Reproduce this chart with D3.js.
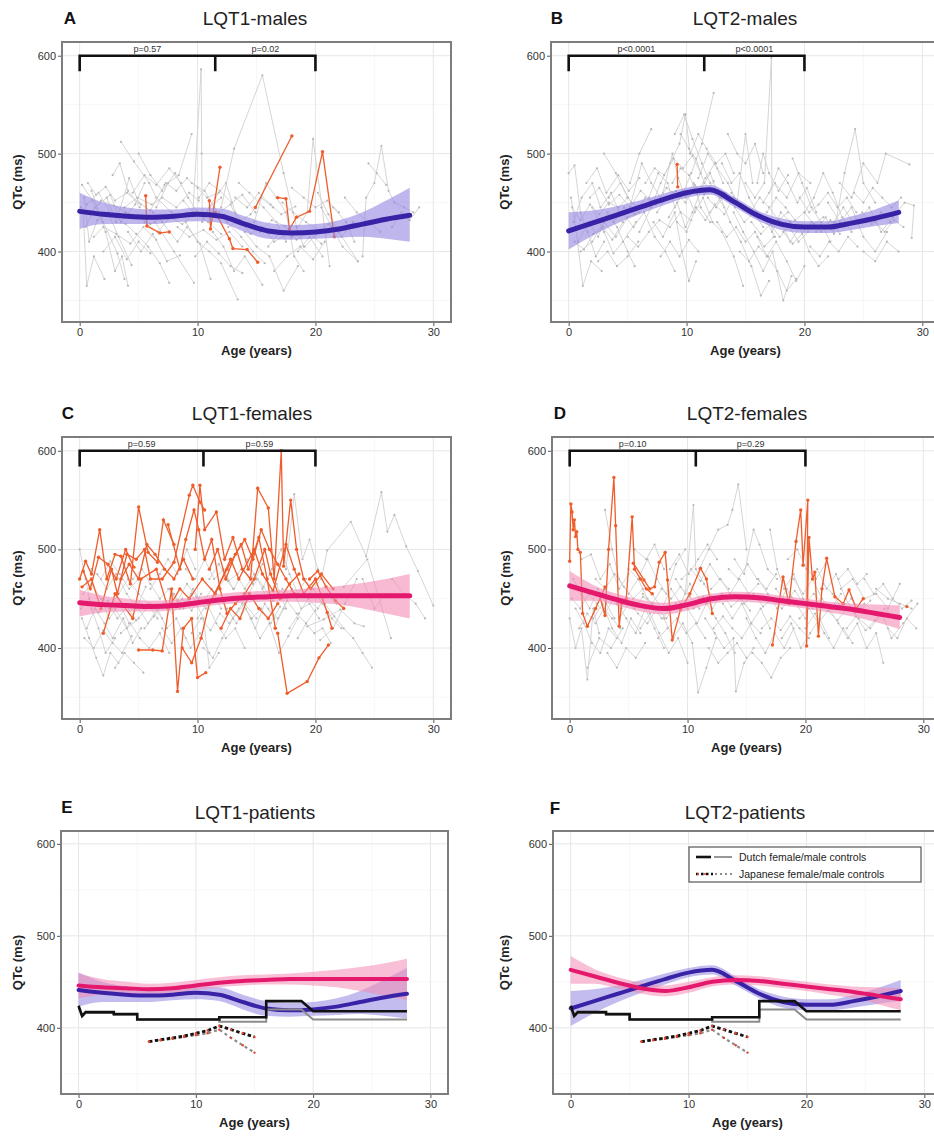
<!DOCTYPE html>
<html><head><meta charset="utf-8">
<script src="https://cdn.jsdelivr.net/npm/d3@7"></script>
<style>
body{margin:0;background:#fff}
svg{display:block}
text{font-family:"Liberation Sans",Arial,Helvetica,sans-serif}
</style>
</head><body>
<svg id="c" width="934" height="1136"></svg>
<script>
// ---------------- DATA ----------------
const X_TICKS = [0, 10, 20, 30];
const Y_TICKS = [400, 500, 600];
const fitAges = [0, 2, 4, 6, 8, 10, 12, 14, 16, 18, 20, 22, 24, 26, 28];

const lqt1MaleFit = [441, 438, 436, 435, 436, 438, 436, 428, 421, 419, 420, 423, 428, 433, 437];
const lqt1MaleLo  = [423, 428, 428, 428, 430, 431, 429, 420, 413, 412, 413, 414, 415, 413, 410];
const lqt1MaleHi  = [460, 450, 445, 443, 443, 445, 444, 436, 429, 427, 428, 432, 440, 452, 465];

const lqt2MaleFit = [421, 429, 437, 445, 453, 460, 463, 451, 437, 428, 425, 425, 429, 434, 440];
const lqt2MaleLo  = [402, 416, 428, 438, 447, 455, 458, 446, 432, 422, 419, 419, 422, 426, 429];
const lqt2MaleHi  = [440, 442, 446, 452, 459, 465, 468, 456, 442, 434, 431, 431, 436, 443, 452];

const lqt1FemaleFit = [446, 444, 443, 442, 443, 446, 449, 451, 452, 453, 453, 453, 453, 453, 453];
const lqt1FemaleLo  = [432, 436, 437, 437, 438, 441, 444, 446, 447, 447, 446, 444, 440, 435, 430];
const lqt1FemaleHi  = [459, 453, 450, 448, 449, 452, 455, 457, 458, 459, 461, 463, 466, 470, 475];

const lqt2FemaleFit = [463, 456, 449, 443, 440, 444, 450, 452, 451, 448, 445, 442, 439, 435, 431];
const lqt2FemaleLo  = [448, 448, 443, 437, 434, 438, 445, 447, 446, 443, 440, 436, 432, 426, 419];
const lqt2FemaleHi  = [478, 464, 455, 449, 446, 450, 455, 457, 456, 453, 450, 447, 445, 444, 443];

// bracket ages and p-values
const lqt1MaleBracket = [0, 11.5, 20];   const lqt1MaleP = ["p=0.57", "p=0.02"];
const lqt2MaleBracket = [0, 11.5, 20];   const lqt2MaleP = ["p<0.0001", "p<0.0001"];
const lqt1FemaleBracket = [0, 10.5, 20]; const lqt1FemaleP = ["p=0.59", "p=0.59"];
const lqt2FemaleBracket = [0, 10.7, 20]; const lqt2FemaleP = ["p=0.10", "p=0.29"];

// Dutch controls (step curves, vertices)
const dutchAge       = [0, 0.3, 0.6, 3, 3, 5, 5, 12, 12, 16, 16, 19, 20, 28];
const dutchFemaleQTc = [424, 413, 417, 417, 415, 415, 409, 409, 411.5, 411.5, 429, 429, 418, 418];
const dutchMaleQTc   = [422, 412, 416, 416, 414, 414, 409, 409, 406.5, 406.5, 420, 420, 409, 409];
// Japanese controls
const japanAge       = [6, 7, 8, 9, 10, 11, 12, 13, 14, 15];
const japanFemaleQTc = [385, 387, 389, 391, 394, 397, 402, 398, 394, 390];
const japanMaleQTc   = [385, 386.5, 388, 390, 392, 394, 398, 389, 381, 373];

// individual patient trajectories [age, QTc]
const lqt1MaleTraces = [
 [[0.2,468],[1.1,452],[2,430],[3.2,398],[3.8,372]],
 [[0.4,455],[0.8,410],[1.5,432],[2.4,440],[3.3,415],[4.4,386]],
 [[0.3,440],[0.6,365],[1.2,395],[2.1,372]],
 [[0.5,425],[1.3,445],[2.6,458],[3.5,430],[4.7,448],[5.5,470]],
 [[1,462],[2.2,420],[3,380],[3.6,395],[4.1,365]],
 [[2.3,455],[3.1,430],[4.2,475],[5,450],[6,442],[7.2,468]],
 [[3.5,512],[4.6,492],[5.9,470],[6.5,455],[7.8,440]],
 [[4.1,420],[5.2,400],[6.2,418],[7.4,390],[8.5,396]],
 [[5,500],[6,478],[7,462],[8.1,480],[9.2,455],[10,440]],
 [[6.2,440],[7,430],[8.3,410],[9.1,425],[10.2,408],[11.1,372]],
 [[6.5,445],[7.5,470],[8.4,478],[9.5,520]],
 [[8.8,452],[9.6,440],[10.3,586],[10.35,500],[10.4,430],[11,445],[12,455]],
 [[9,430],[10,410],[11,400],[12,388],[13.4,351]],
 [[10.5,435],[11.5,455],[12.4,470],[13.2,440],[14.1,425]],
 [[11.3,420],[12.2,405],[13.1,380],[14,395],[15.5,366]],
 [[12,445],[13.1,505],[15.5,580],[17.3,480],[18.4,425],[19,405]],
 [[13.5,470],[14.4,460],[15.6,445],[16.7,430],[17.5,410]],
 [[14,420],[15,405],[16.1,395],[17.3,360],[18.5,385]],
 [[14.8,430],[15.8,470],[16.7,455],[17.5,440],[18.2,395],[19,380]],
 [[16,405],[17,420],[18,415],[19.3,440],[19.8,515],[21.2,385]],
 [[17.2,450],[18.1,440],[19.2,430],[20.5,420]],
 [[18.5,400],[19.5,415],[20.6,395]],
 [[20.2,460],[21.1,438],[22,420],[23.6,390]],
 [[21.5,445],[22.6,430],[23.3,410]],
 [[24,395],[24.3,455],[25,470],[25.6,508],[26.2,462],[26.7,450],[27.5,445],[28.3,440]],
 [[24.5,490],[25.2,480],[26,468]],
 [[2.8,478],[3.4,490],[4.1,462],[5.1,445]],
 [[0.6,448],[1.6,460],[2.7,438],[3.9,428],[4.8,418],[5.8,405],[6.8,388],[7.6,368]],
 [[9.5,470],[10.6,462],[11.4,445],[12.5,430],[13.7,415],[14.7,400],[15.7,388]],
 [[6.4,430],[8,400],[9.7,368]],
 [[20.5,445],[21.4,425],[22.3,405],[23.6,390]],
 [[0.1,445],[0.9,438],[1.8,452],[2.9,447],[3.9,440],[4.9,436],[6,428],[7.1,436]],
 [[0.7,470],[1.4,458],[2.2,466],[3,452],[4,460],[5.2,448]],
 [[1.2,415],[2,425],[3.1,418],[4.3,408],[5.4,425],[6.5,412]],
 [[3.8,445],[4.9,455],[6.1,448],[7,455],[8.2,445],[9.3,460],[10.1,452]],
 [[5.5,430],[6.6,420],[7.7,435],[8.7,428],[9.8,440],[10.9,430],[12,418]],
 [[7.3,470],[8.2,462],[9.1,475],[10,465],[10.8,455],[11.8,460]],
 [[8.3,425],[9.3,415],[10.5,422],[11.6,412],[12.7,420],[13.8,405]],
 [[10.1,455],[11,470],[11.9,462],[12.9,450],[13.8,458],[14.9,440]],
 [[12.6,425],[13.6,432],[14.5,418],[15.5,425],[16.5,410],[17.6,418]],
 [[13.2,455],[14.2,445],[15.2,460],[16.2,448],[17.1,438],[18.3,446]],
 [[15.3,420],[16.3,432],[17.4,426],[18.4,412],[19.4,420],[20.5,408]],
 [[16.5,380],[17.6,395],[18.7,405],[19.8,392],[20.8,410]],
 [[18,465],[19,455],[20,445],[21,452],[22,440]],
 [[19.1,405],[20.1,418],[21.1,428],[22.2,415],[23.2,430]],
 [[22.5,455],[23.5,440],[24.5,430],[25.5,420]],
 [[26.5,425],[27.3,440],[28,432],[28.8,445]],
 [[2,400],[3,415],[4,392],[5,410],[6,398]],
 [[4.5,460],[5.5,478],[6.5,468],[7.6,485],[8.6,470]],
 [[9.8,395],[10.8,410],[11.8,398],[12.8,385],[13.8,378]],
 [[11.8,440],[12.8,448],[13.5,430],[14.5,438],[15.4,455],[16.4,445]]
];
const lqt1MaleHighlighted = [
 [[5.6,457],[5.7,426],[6.8,419],[7.6,420]],
 [[11,452],[11.1,423],[11.9,486]],
 [[11.5,440],[12.7,413],[13,403],[14.2,402],[15.1,389]],
 [[14.9,445],[18,518]],
 [[16.8,455],[17.5,454],[17.8,423],[18.4,435],[19.5,441],[20.6,502],[21.6,415]]
];

const lqt2MaleTraces = [
 [[0,480],[0.5,488],[1,440],[1.6,420],[2.3,395],[3,410]],
 [[0.2,455],[0.6,425],[1.2,365],[1.9,390],[2.8,380]],
 [[0.4,430],[1.1,455],[2,470],[2.7,445],[3.6,460],[4.3,440]],
 [[0.8,410],[1.7,430],[2.5,415],[3.3,440],[4.1,425],[5,400],[5.6,385]],
 [[1.5,470],[2.4,485],[3.2,460],[4.2,478],[5.1,462],[6,475]],
 [[2,445],[3,420],[3.8,398],[4.6,410],[5.7,430]],
 [[3.4,455],[4.4,470],[5.3,450],[6.2,490],[7,470],[7.8,455]],
 [[4.5,440],[5.5,425],[6.4,440],[7.3,415],[8.2,400],[9,380]],
 [[5.2,470],[6,500],[7,525]],
 [[6,420],[7,445],[7.8,470],[8.6,490],[9.4,510],[9.9,540],[10.3,500]],
 [[6.8,455],[7.6,480],[8.4,470],[9,445],[9.7,460],[10.4,480],[11.3,510],[12.3,562]],
 [[7.2,430],[8,415],[9,440],[9.6,400],[10.2,370],[10.8,390]],
 [[8,460],[8.8,500],[9.3,475],[9.9,455],[10.6,470],[11.2,445],[12,430]],
 [[8.5,435],[9.2,450],[9.9,425],[10.5,440],[11.3,465],[12,480],[12.8,455]],
 [[9.5,520],[10.2,505],[10.8,495],[11.5,470],[12.4,460],[13.2,445]],
 [[10,460],[10.7,440],[11.4,455],[12.2,430],[13,420],[14,395],[14.8,365]],
 [[11,475],[11.8,500],[12.6,485],[13.5,470],[14.3,450],[15,520],[15.6,470]],
 [[12,440],[12.9,455],[13.7,430],[14.6,410],[15.5,385],[16.3,355],[17,370]],
 [[13,490],[13.8,470],[14.5,480],[15.3,455],[16,440],[16.8,430],[17.5,415]],
 [[14,440],[14.8,420],[15.7,400],[16.5,380],[17.3,400],[18.2,350],[18.9,375]],
 [[15,470],[15.8,455],[16.6,470],[17.2,598],[17.25,420],[18,440],[18.8,430]],
 [[16,415],[16.8,395],[17.6,410],[18.5,390],[19.3,370],[20,385]],
 [[17,460],[17.8,485],[18.6,470],[19.4,450],[20.2,465],[21,440]],
 [[18,430],[18.8,410],[19.6,425],[20.4,400],[21.2,385],[22,395]],
 [[19,495],[19.8,470],[20.6,445],[21.4,430],[22.2,410]],
 [[20,440],[20.8,455],[21.6,480],[22.4,460],[23.2,435],[24,420]],
 [[21,420],[21.8,435],[22.5,418],[23.4,480],[24.3,525],[25,470],[26,450]],
 [[22,450],[23,430],[24,445],[25,415],[26,400],[27,420]],
 [[23,470],[24,455],[25,490],[26.2,470],[26.9,500],[28.9,489]],
 [[24.5,430],[25.5,445],[26.5,420],[27.5,435],[28.5,450],[29.3,447],[29.1,414]],
 [[25,400],[26,390],[27,410],[28,400]],
 [[3,500],[4,480],[5,455],[5.8,445]],
 [[16.5,450],[17.5,470],[18.5,455],[19.5,480],[20.5,470]],
 [[9,520],[9.8,540],[10.5,515],[11.3,490],[12,470]],
 [[1,400],[2,410],[3,430],[4,415],[5,435],[6,440]],
 [[13.5,520],[14.3,500],[15,490],[15.8,510],[16.5,480]],
 [[0.3,445],[1,432],[1.8,448],[2.6,438],[3.4,450],[4.2,445],[5,455]],
 [[0.5,410],[1.3,402],[2.1,418],[2.9,425],[3.7,412],[4.6,430]],
 [[1.8,455],[2.6,465],[3.4,448],[4.3,458],[5.2,445],[6.1,462],[7,452]],
 [[3.8,430],[4.7,445],[5.6,438],[6.5,455],[7.4,448],[8.3,465],[9.1,458]],
 [[5,415],[5.9,405],[6.8,420],[7.7,432],[8.6,425],[9.5,440],[10.4,432]],
 [[6.5,470],[7.3,485],[8.1,478],[8.9,495],[9.7,485],[10.5,498],[11.2,480]],
 [[7.5,440],[8.3,455],[9.1,462],[9.9,450],[10.7,468],[11.5,458],[12.3,472]],
 [[8.8,470],[9.5,485],[10.2,478],[10.9,460],[11.6,475],[12.4,490],[13.1,470]],
 [[9.2,430],[10,420],[10.8,445],[11.6,432],[12.4,448],[13.2,438],[14,455]],
 [[10.3,500],[11,520],[11.7,505],[12.5,490],[13.3,500],[14,480]],
 [[11.8,455],[12.5,445],[13.3,460],[14.1,445],[14.9,430],[15.7,440],[16.5,425]],
 [[12.6,430],[13.4,415],[14.2,425],[15,410],[15.8,420],[16.6,405],[17.4,415]],
 [[13.8,460],[14.6,448],[15.4,440],[16.2,455],[17,445],[17.8,432],[18.6,440]],
 [[14.5,400],[15.3,390],[16.1,405],[16.9,395],[17.7,380],[18.5,360],[19.3,372]],
 [[15.5,430],[16.3,418],[17.1,428],[17.9,415],[18.7,425],[19.5,410],[20.3,420]],
 [[16.8,440],[17.6,455],[18.4,445],[19.2,432],[20,440],[20.8,428],[21.6,435]],
 [[18.2,420],[19,408],[19.8,418],[20.6,430],[21.4,420],[22.2,432],[23,418]],
 [[19.6,455],[20.4,440],[21.2,448],[22,460],[22.8,445],[23.6,455],[24.4,440]],
 [[20.5,405],[21.3,395],[22.1,410],[22.9,400],[23.7,415],[24.5,405]],
 [[22.5,430],[23.3,445],[24.1,430],[24.9,440],[25.7,428],[26.5,440],[27.3,430]],
 [[24.2,460],[25,450],[25.8,465],[26.6,455],[27.4,445],[28.2,455]],
 [[26,430],[26.8,420],[27.6,432],[28.4,425]],
 [[2.5,390],[3.3,400],[4.1,385],[5,395],[5.9,410]],
 [[7.8,395],[8.6,410],[9.4,395],[10.2,412],[11,400]],
 [[16,470],[16.5,500],[17,480],[17.8,462],[18.6,478]]
];
const lqt2MaleHighlighted = [
 [[9.2,489],[9.25,466]]
];

const lqt1FemaleTraces = [
 [[0,500],[0.5,470],[1,440],[1.6,420],[2.2,395],[3,410]],
 [[0.2,430],[0.8,410],[1.4,390],[2,372],[2.6,395],[3.3,385]],
 [[0.3,455],[1,465],[1.8,450],[2.5,430],[3.4,445],[4.2,425]],
 [[0.6,420],[1.3,440],[2.1,425],[2.8,410],[3.7,430],[4.5,405],[5.2,420]],
 [[1.5,475],[2.3,460],[3.1,475],[4,455],[4.8,440],[5.6,462]],
 [[2.5,440],[3.3,455],[4.1,470],[5,455],[5.8,445],[6.6,430]],
 [[3.5,415],[4.3,425],[5.1,410],[5.9,400],[6.8,415],[7.6,395]],
 [[4.5,470],[5.3,480],[6,465],[6.8,450],[7.6,460],[8.4,445]],
 [[5,440],[5.8,425],[6.6,440],[7.4,420],[8.2,430],[9,410]],
 [[6,460],[6.8,475],[7.5,490],[8.3,475],[9.1,500],[9.8,480]],
 [[7,420],[7.8,405],[8.6,420],[9.4,400],[10.2,415],[11,395]],
 [[8,455],[8.8,440],[9.6,460],[10.4,445],[11.2,460],[12,440]],
 [[9,480],[9.8,470],[10.6,490],[11.4,470],[12.2,480],[13,460]],
 [[10,430],[10.8,445],[11.6,425],[12.4,410],[13.2,420],[14,400]],
 [[10.5,400],[11.3,390],[12.1,410],[13,430],[14,445],[15,430]],
 [[11.5,455],[12.3,470],[13.1,460],[13.9,480],[14.7,465],[15.5,485]],
 [[12.5,440],[13.3,425],[14.1,440],[14.9,420],[15.7,445],[16.5,430]],
 [[13.5,470],[14.3,455],[15.1,470],[15.9,450],[16.7,465],[17.5,440]],
 [[14.5,430],[15.3,410],[16.1,425],[16.9,395],[17.7,412],[18.5,430]],
 [[15.5,460],[16.3,480],[17.1,500],[17.8,475],[18.5,455],[19.2,470]],
 [[16.5,420],[17.3,440],[18,460],[18.8,440],[19.5,445],[20.3,430]],
 [[17.5,480],[18.2,556],[18.9,490],[19.5,510],[20.2,480]],
 [[18.5,410],[19.2,425],[19.9,415],[20.6,420],[21.3,405]],
 [[19.3,422],[20.7,429],[22.1,439],[23.3,425],[24.1,422]],
 [[19.5,455],[20.5,470],[21,499],[23,528],[24.3,493],[25.6,558],[26.1,518],[26.7,535],[27.7,503],[28.7,478],[30,443]],
 [[22.4,462],[24.4,490],[26.4,410]],
 [[20.4,408],[21.5,420],[22.5,445],[23.5,470]],
 [[24,470],[25,440],[26,455]],
 [[8.5,440],[9.5,455],[10.5,430],[11,380],[11.8,395]],
 [[2,450],[3,440],[4,420],[5,430],[6,445],[7,430]],
 [[0.1,440],[0.8,450],[1.6,436],[2.4,448],[3.2,430],[4,442],[4.8,428]],
 [[0.4,410],[1.2,400],[2,418],[2.8,405],[3.6,395],[4.4,412]],
 [[1,480],[1.8,470],[2.6,488],[3.4,475],[4.2,460],[5,470]],
 [[5.5,420],[6.3,432],[7.1,445],[7.9,435],[8.7,450],[9.5,438],[10.3,455]],
 [[7.5,460],[8.3,448],[9.1,465],[9.9,452],[10.7,440],[11.5,450]],
 [[9.5,415],[10.3,430],[11.1,418],[11.9,435],[12.7,425],[13.5,440]],
 [[11,470],[11.8,485],[12.6,468],[13.4,475],[14.2,490],[15,470]],
 [[13,430],[13.8,445],[14.6,430],[15.4,440],[16.2,425],[17,442]],
 [[14,460],[14.8,475],[15.6,462],[16.4,448],[17.2,460],[18,452]],
 [[16,440],[16.8,430],[17.6,448],[18.4,435],[19.2,425],[20,438]],
 [[17.8,420],[18.6,435],[19.4,450],[20.2,440],[21,455],[21.8,445]],
 [[19,470],[19.8,460],[20.6,445],[21.4,430],[22.2,420]],
 [[20.8,445],[21.6,432],[22.4,420],[23.2,410],[24,395],[24.8,380]],
 [[26.5,470],[27.5,455],[28.5,445],[29.3,430]],
 [[3,380],[3.8,395],[4.6,385],[5.4,375]]
];
const lqt1FemaleHighlighted = [
 [[0,470],[0.5,488],[1,475],[1.7,520],[2.3,470],[3,495],[3.5,493],[4.3,465],[5,543],[5.8,497],[6.6,487],[7.1,530],[8,505]],
 [[0.2,462],[1,470],[1.8,440],[2.7,480],[3.2,455],[4,495],[4.8,490],[5.5,500],[6,470],[7,470],[8,487],[9.3,555],[9.6,565],[10.2,548],[10.6,540]],
 [[5,398],[6.2,398],[7,397],[7.8,460],[8.3,356],[8.8,420],[9.5,430],[10,370],[10.7,375]],
 [[9.8,500],[10.2,565],[10.6,520],[11.6,538],[12.3,490],[13,512],[13.8,480],[14.5,470],[15.1,562],[16,542],[16.5,470],[17.1,600],[17.3,483],[17.9,550],[18.4,500],[19,470],[19.6,460],[20.5,475],[21.5,460]],
 [[16.8,415],[17.6,354],[19.3,366],[20.3,390],[21.1,403]],
 [[2,415],[3,455],[4.5,430],[5.2,470],[6.5,480],[7.5,440],[8.5,460],[9.3,450],[10.4,470],[11.5,455],[12.8,490],[13.5,470],[14.8,500],[15.5,475],[16.4,458],[17.5,505],[18.2,480],[19,455],[20,470],[21,436],[21.4,420]],
 [[8.7,400],[9.5,385],[10.3,410],[11,445],[12.5,480],[13.7,505],[14.3,480],[15.2,512],[15.9,470],[16.6,420]],
 [[7.5,525],[8.5,480],[9,510],[9.7,540],[10.1,520],[10.6,490],[11.2,510],[11.9,460],[12.5,435],[13.2,445],[14,455],[14.8,470],[15.7,500],[16.2,475],[17,450],[17.8,465],[18.6,475]],
 [[0.3,478],[0.9,460],[1.6,492],[2.4,485],[3.1,470],[3.9,500],[4.6,482]],
 [[3.5,470],[4.2,485],[5,470],[5.7,505],[6.4,495],[7.2,480],[8,470],[8.8,490],[9.6,470]],
 [[11,480],[11.7,500],[12.4,470],[13.2,495],[14,510],[14.7,490],[15.4,520],[16.1,500],[16.8,485],[17.5,470],[18.2,455]],
 [[12,420],[12.8,440],[13.6,430],[14.4,455],[15.2,440],[16,430],[16.8,445]],
 [[19.5,470],[20.2,478],[20.9,462],[21.7,448],[22.4,440]]
];

const lqt2FemaleTraces = [
 [[0,430],[0.5,400],[1,420],[1.5,368],[2,440],[2.5,415]],
 [[0.3,470],[1,455],[1.7,440],[2.4,460],[3.1,445],[3.8,430]],
 [[0.5,440],[1.2,425],[1.9,405],[2.6,395],[3.3,420],[4,410]],
 [[1,490],[1.8,495],[2.6,470],[3.4,485],[4.2,460],[5,475]],
 [[2,430],[2.8,445],[3.6,420],[4.4,405],[5.2,430],[6,415]],
 [[3,540],[3.6,500],[4.2,470],[5,455],[5.8,470],[6.6,450]],
 [[4,445],[4.8,430],[5.6,415],[6.4,440],[7.2,420],[8,400]],
 [[5,480],[5.8,470],[6.6,490],[7.4,470],[8.2,455],[9,485],[9.8,500]],
 [[6,420],[6.8,435],[7.6,415],[8.4,395],[9.2,410],[10,385]],
 [[7,455],[7.8,440],[8.6,460],[9.4,445],[10.2,465],[11,450]],
 [[8,430],[8.8,410],[9.6,425],[10.4,405],[10.9,355],[11.6,380],[12.4,410]],
 [[9,470],[9.8,455],[10.5,545],[10.7,480],[11.4,465],[12.2,450]],
 [[10,440],[10.8,425],[11.6,445],[12.4,430],[13.2,415],[14,395]],
 [[11,480],[11.8,500],[12.6,520],[13.4,525],[13.8,540],[14.3,566],[15,500]],
 [[11.5,430],[12.3,415],[13.1,400],[13.9,410],[14.1,356],[14.8,385],[15.6,400]],
 [[12,460],[12.8,470],[13.6,455],[14.4,470],[15.2,455],[16,465]],
 [[13,445],[13.8,430],[14.6,445],[15.4,425],[16.2,440],[17,420]],
 [[14,490],[14.8,475],[15.6,520],[16.1,505],[16.8,480],[17.6,470]],
 [[15,430],[15.8,410],[16.6,395],[17.4,415],[18.2,400],[19,420]],
 [[16,470],[16.8,455],[17.6,440],[18.4,460],[19.2,445],[20,430]],
 [[17,520],[17.6,480],[18.2,460],[19,475],[19.8,450],[20.6,440]],
 [[18,410],[18.8,425],[19.6,400],[20.4,415],[21.2,430],[22,410]],
 [[19,470],[19.8,455],[20.6,470],[21.4,450],[22.2,440],[23,455]],
 [[20,420],[20.8,435],[21.6,415],[22.4,400],[23.2,420],[24,405]],
 [[21,480],[21.8,460],[22.6,475],[23.4,450],[24.2,435],[25,445]],
 [[22,440],[22.8,425],[23.6,410],[24.4,425],[25.2,400],[26,415],[26.6,385]],
 [[23,460],[24,470],[25,450],[26,455],[27,440],[28,465]],
 [[24.5,430],[25.5,420],[26.5,435],[27.3,410],[28.3,425],[29.5,445]],
 [[26,460],[27,450],[28,445],[29,440]],
 [[5.5,500],[6.5,490],[7.2,505],[8,480]],
 [[1.5,380],[2.5,410],[3.5,400],[4.5,420]],
 [[0.2,450],[0.9,440],[1.6,455],[2.3,445],[3,435],[3.7,450],[4.4,440]],
 [[0.8,420],[1.5,435],[2.2,425],[2.9,440],[3.6,430],[4.3,420]],
 [[2.2,470],[3,460],[3.8,475],[4.6,462],[5.4,450],[6.2,460]],
 [[4.2,430],[5,445],[5.8,435],[6.6,425],[7.4,440],[8.2,430],[9,445]],
 [[6.2,455],[7,445],[7.8,460],[8.6,450],[9.4,462],[10.2,452],[11,440]],
 [[7.5,410],[8.3,420],[9.1,430],[9.9,415],[10.7,425],[11.5,410]],
 [[9.5,470],[10.3,480],[11.1,468],[11.9,485],[12.7,470],[13.5,460]],
 [[10.5,440],[11.3,452],[12.1,440],[12.9,455],[13.7,442],[14.5,450],[15.3,438]],
 [[12.2,420],[13,432],[13.8,420],[14.6,410],[15.4,425],[16.2,415]],
 [[13.5,480],[14.3,470],[15.1,485],[15.9,470],[16.7,460],[17.5,475]],
 [[14.8,445],[15.6,455],[16.4,442],[17.2,450],[18,440],[18.8,452]],
 [[16.3,420],[17.1,430],[17.9,418],[18.7,432],[19.5,420],[20.3,410]],
 [[17.5,460],[18.3,448],[19.1,458],[19.9,445],[20.7,455],[21.5,445]],
 [[19.5,430],[20.3,440],[21.1,425],[21.9,438],[22.7,428],[23.5,440]],
 [[21.5,465],[22.3,455],[23.1,440],[23.9,450],[24.7,438],[25.5,448]],
 [[23.5,420],[24.3,432],[25.1,418],[25.9,428],[26.7,440],[27.5,430]],
 [[25,470],[25.8,455],[26.6,465],[27.4,450],[28.2,440],[29,448]],
 [[27,420],[27.8,410],[28.6,430],[29.4,420]],
 [[3.2,395],[4,380],[4.8,400],[5.6,390],[6.4,405]],
 [[8.5,480],[9.3,495],[10.1,475],[10.9,490],[11.7,505],[12.5,490]],
 [[15.5,395],[16.3,385],[17.1,370],[17.9,390],[18.7,400]],
 [[18.5,490],[19.3,500],[20.1,480],[20.9,470],[21.7,485]],
 [[5.5,440],[6.2,452],[7,445],[7.8,430],[8.6,440]],
 [[11.8,400],[12.6,385],[13.4,395],[14.2,405],[15,390]],
 [[22.8,470],[23.6,480],[24.4,465],[25.2,475]]
];
const lqt2FemaleHighlighted = [
 [[0,488],[0.1,546],[0.2,538],[0.3,520],[0.4,530],[0.5,513],[0.6,518],[0.7,500],[0.9,497],[1.1,435],[1.5,422],[2.2,440],[3,462]],
 [[2.5,455],[3,433],[3.3,500],[3.75,573],[3.9,524],[4.2,422],[4.4,445]],
 [[4.8,450],[5.3,533],[5.5,480],[6,470],[6.5,460],[7,455]],
 [[5.4,486],[6.3,469],[6.8,460],[7.2,462],[7.6,487],[8.1,497],[8.3,469],[8.7,408],[9.4,439],[10.2,455],[11.1,481],[11.6,470],[12.1,435]],
 [[17.2,403],[18.1,472],[18.6,445],[19.2,508],[19.6,540],[19.8,484],[20.2,550],[20.1,402],[20.3,512],[20.6,470],[20.8,477],[21.1,412],[21.4,460],[21.8,491],[22.5,452],[23.2,445],[23.7,459],[24.3,440],[24.9,450]],
 [[28.6,442]]
];

// ---------------- LAYOUT ----------------
const svg = d3.select('#c');
const xDomain = [-1.5, 31.5], yDomain = [328, 614];
const COL = {
  grid: '#e6e6e6', minor: '#f3f3f3', border: '#7d7d7d',
  trace: '#cecece', traceDot: '#b8b8b8', hi: '#ef5d2c',
  maleLine: '#3a22a6', maleBand: '#9285e0', femLine: '#e4196e', femBand: '#f48ab4'
};
const panels = [
  {key:'A', title:'LQT1-males', box:[62,451,42,322], lab:[70,18], tit:[255,18], yl:17,
   traces:lqt1MaleTraces, hi:lqt1MaleHighlighted, fits:[['m',lqt1MaleFit,lqt1MaleLo,lqt1MaleHi]], br:lqt1MaleBracket, p:lqt1MaleP},
  {key:'B', title:'LQT2-males', box:[551,940,42,322], lab:[557,18], tit:[745,18], yl:504,
   traces:lqt2MaleTraces, hi:lqt2MaleHighlighted, fits:[['m',lqt2MaleFit,lqt2MaleLo,lqt2MaleHi]], br:lqt2MaleBracket, p:lqt2MaleP},
  {key:'C', title:'LQT1-females', box:[62,451,437,719], lab:[68,413], tit:[252,413], yl:17,
   traces:lqt1FemaleTraces, hi:lqt1FemaleHighlighted, fits:[['f',lqt1FemaleFit,lqt1FemaleLo,lqt1FemaleHi]], br:lqt1FemaleBracket, p:lqt1FemaleP},
  {key:'D', title:'LQT2-females', box:[552,941,437,719], lab:[560,413], tit:[747,413], yl:505,
   traces:lqt2FemaleTraces, hi:lqt2FemaleHighlighted, fits:[['f',lqt2FemaleFit,lqt2FemaleLo,lqt2FemaleHi]], br:lqt2FemaleBracket, p:lqt2FemaleP},
  {key:'E', title:'LQT1-patients', box:[61,448,831,1094], lab:[67,807], tit:[255,812], yl:17,
   fits:[['m',lqt1MaleFit,lqt1MaleLo,lqt1MaleHi],['f',lqt1FemaleFit,lqt1FemaleLo,lqt1FemaleHi]], controls:true},
  {key:'F', title:'LQT2-patients', box:[553,942,831,1094], lab:[555,808], tit:[745,812], yl:504,
   fits:[['m',lqt2MaleFit,lqt2MaleLo,lqt2MaleHi],['f',lqt2FemaleFit,lqt2FemaleLo,lqt2FemaleHi]], controls:true, legend:true}
];

panels.forEach(P => {
  const [L, R, T, B] = P.box;
  const x = d3.scaleLinear().domain(xDomain).range([L, R]);
  const y = d3.scaleLinear().domain(yDomain).range([B, T]);
  const g = svg.append('g');
  const clipId = 'clip' + P.key;
  g.append('clipPath').attr('id', clipId).append('rect')
    .attr('x', L).attr('y', T).attr('width', R - L).attr('height', B - T);
  g.append('rect').attr('x', L).attr('y', T).attr('width', R - L).attr('height', B - T).attr('fill', '#fff');

  // grid
  const grid = g.append('g');
  [5, 15, 25].forEach(v => grid.append('line').attr('x1', x(v)).attr('x2', x(v)).attr('y1', T).attr('y2', B).attr('stroke', COL.minor).attr('stroke-width', 0.7));
  [350, 450, 550].forEach(v => grid.append('line').attr('y1', y(v)).attr('y2', y(v)).attr('x1', L).attr('x2', R).attr('stroke', COL.minor).attr('stroke-width', 0.7));
  X_TICKS.forEach(v => grid.append('line').attr('x1', x(v)).attr('x2', x(v)).attr('y1', T).attr('y2', B).attr('stroke', COL.grid).attr('stroke-width', 1));
  Y_TICKS.forEach(v => grid.append('line').attr('y1', y(v)).attr('y2', y(v)).attr('x1', L).attr('x2', R).attr('stroke', COL.grid).attr('stroke-width', 1));

  const plot = g.append('g').attr('clip-path', `url(#${clipId})`);
  const line = d3.line().x(d => x(d[0])).y(d => y(d[1]));

  if (P.traces) {
    P.traces.forEach(tr => {
      plot.append('path').attr('d', line(tr)).attr('fill', 'none').attr('stroke', COL.trace).attr('stroke-width', 0.85);
      tr.forEach(d => plot.append('circle').attr('cx', x(d[0])).attr('cy', y(d[1])).attr('r', 1.1).attr('fill', COL.traceDot));
    });
  }
  if (P.hi) {
    P.hi.forEach(tr => {
      plot.append('path').attr('d', line(tr)).attr('fill', 'none').attr('stroke', COL.hi).attr('stroke-width', 1.3);
      tr.forEach(d => plot.append('circle').attr('cx', x(d[0])).attr('cy', y(d[1])).attr('r', 1.7).attr('fill', COL.hi));
    });
  }

  // fitted curves with confidence bands
  const lw = P.controls ? 4 : 5;
  const area = d3.area().x(d => x(d.a)).y0(d => y(d.lo)).y1(d => y(d.hi)).curve(d3.curveMonotoneX);
  const fline = d3.line().x(d => x(d.a)).y(d => y(d.m)).curve(d3.curveMonotoneX);
  const fitRows = P.fits.map(f => ({sex: f[0], rows: fitAges.map((a, i) => ({a, m: f[1][i], lo: f[2][i], hi: f[3][i]}))}));
  fitRows.forEach(f => {
    plot.append('path').attr('d', area(f.rows)).attr('fill', f.sex === 'm' ? COL.maleBand : COL.femBand).attr('opacity', P.controls ? 0.55 : 0.6);
  });
  fitRows.forEach(f => {
    plot.append('path').attr('d', fline(f.rows)).attr('fill', 'none').attr('stroke', f.sex === 'm' ? COL.maleLine : COL.femLine).attr('stroke-width', lw).attr('stroke-linecap', 'round');
  });

  if (P.controls) {
    const dm = dutchAge.map((a, i) => [a, dutchMaleQTc[i]]);
    const df = dutchAge.map((a, i) => [a, dutchFemaleQTc[i]]);
    plot.append('path').attr('d', line(dm)).attr('fill', 'none').attr('stroke', '#8c8c8c').attr('stroke-width', 2);
    plot.append('path').attr('d', line(df)).attr('fill', 'none').attr('stroke', '#111').attr('stroke-width', 2.6);
    const jm = japanAge.map((a, i) => [a, japanMaleQTc[i]]);
    const jf = japanAge.map((a, i) => [a, japanFemaleQTc[i]]);
    plot.append('path').attr('d', line(jm)).attr('fill', 'none').attr('stroke', '#8c8c8c').attr('stroke-width', 2.2).attr('stroke-dasharray', '3,3');
    plot.append('path').attr('d', line(jf)).attr('fill', 'none').attr('stroke', '#111').attr('stroke-width', 2.8).attr('stroke-dasharray', '3.5,2.5');
    [jm, jf].forEach(s => s.forEach(d => plot.append('circle').attr('cx', x(d[0])).attr('cy', y(d[1])).attr('r', 1.2).attr('fill', '#e4442c')));
  }

  // brackets
  if (P.br) {
    const yb = y(600), yt = y(584);
    const bg = g.append('g');
    bg.append('path').attr('d', `M${x(P.br[0])},${yt}V${yb}H${x(P.br[2])}V${yt}M${x(P.br[1])},${yb}V${yt}`)
      .attr('fill', 'none').attr('stroke', '#111').attr('stroke-width', 2.6);
    [[P.br[0], P.br[1]], [P.br[1], P.br[2]]].forEach((seg, i) => {
      bg.append('text').attr('x', x((seg[0] + seg[1]) / 2)).attr('y', yb - 3.5).attr('text-anchor', 'middle')
        .attr('font-size', 9).attr('fill', '#333').text(P.p[i]);
    });
  }

  // border
  g.append('rect').attr('x', L).attr('y', T).attr('width', R - L).attr('height', B - T)
    .attr('fill', 'none').attr('stroke', COL.border).attr('stroke-width', 2);

  // axes
  const ya = g.append('g').attr('transform', `translate(${L - 1},0)`)
    .call(d3.axisLeft(y).tickValues(Y_TICKS).tickSize(3).tickPadding(2));
  const xa = g.append('g').attr('transform', `translate(0,${B + 1})`)
    .call(d3.axisBottom(x).tickValues(X_TICKS).tickSize(3).tickPadding(2));
  [ya, xa].forEach(a => {
    a.select('.domain').remove();
    a.selectAll('line').attr('stroke', '#555');
    a.selectAll('text').attr('font-size', 11).attr('fill', '#333').attr('font-family', '"Liberation Sans",Arial,sans-serif');
  });

  // labels
  g.append('text').attr('x', x(15)).attr('y', B + 33)
    .attr('text-anchor', 'middle').attr('font-size', 13).attr('font-weight', 'bold').attr('fill', '#222').text('Age (years)');
  g.append('text').attr('transform', `translate(${P.yl},${(T + B) / 2}) rotate(-90)`).attr('dy', '0.35em')
    .attr('text-anchor', 'middle').attr('font-size', 13).attr('font-weight', 'bold').attr('fill', '#222').text('QTc (ms)');
  g.append('text').attr('x', P.tit[0]).attr('y', P.tit[1]).attr('dy', '0.35em').attr('text-anchor', 'middle')
    .attr('font-size', 19).attr('fill', '#222').text(P.title);
  g.append('text').attr('x', P.lab[0]).attr('y', P.lab[1]).attr('dy', '0.35em').attr('text-anchor', 'middle')
    .attr('font-size', 17).attr('font-weight', 'bold').attr('fill', '#111').text(P.key);

  if (P.legend) {
    const lg = g.append('g');
    const lx = 689, ly = 847;
    lg.append('rect').attr('x', lx).attr('y', ly).attr('width', 232).attr('height', 35).attr('fill', '#fff').attr('stroke', '#555').attr('stroke-width', 1.2);
    lg.append('line').attr('x1', lx + 7).attr('x2', lx + 22).attr('y1', ly + 10).attr('y2', ly + 10).attr('stroke', '#111').attr('stroke-width', 2.6);
    lg.append('line').attr('x1', lx + 25).attr('x2', lx + 43).attr('y1', ly + 10).attr('y2', ly + 10).attr('stroke', '#8c8c8c').attr('stroke-width', 1.8);
    lg.append('line').attr('x1', lx + 7).attr('x2', lx + 24).attr('y1', ly + 27).attr('y2', ly + 27).attr('stroke', '#111').attr('stroke-width', 2.6).attr('stroke-dasharray', '2.5,2.5');
    lg.append('line').attr('x1', lx + 26).attr('x2', lx + 43).attr('y1', ly + 27).attr('y2', ly + 27).attr('stroke', '#8c8c8c').attr('stroke-width', 2).attr('stroke-dasharray', '2,3');
    [[lx + 9, ly + 27], [lx + 16, ly + 27]].forEach(p => lg.append('circle').attr('cx', p[0]).attr('cy', p[1]).attr('r', 1.1).attr('fill', '#e4442c'));
    lg.append('text').attr('x', lx + 50).attr('y', ly + 10).attr('dy', '0.35em').attr('font-size', 10.5).attr('fill', '#222').text('Dutch female/male controls');
    lg.append('text').attr('x', lx + 50).attr('y', ly + 27).attr('dy', '0.35em').attr('font-size', 10.5).attr('fill', '#222').text('Japanese female/male controls');
  }
});
</script>
</body></html>
